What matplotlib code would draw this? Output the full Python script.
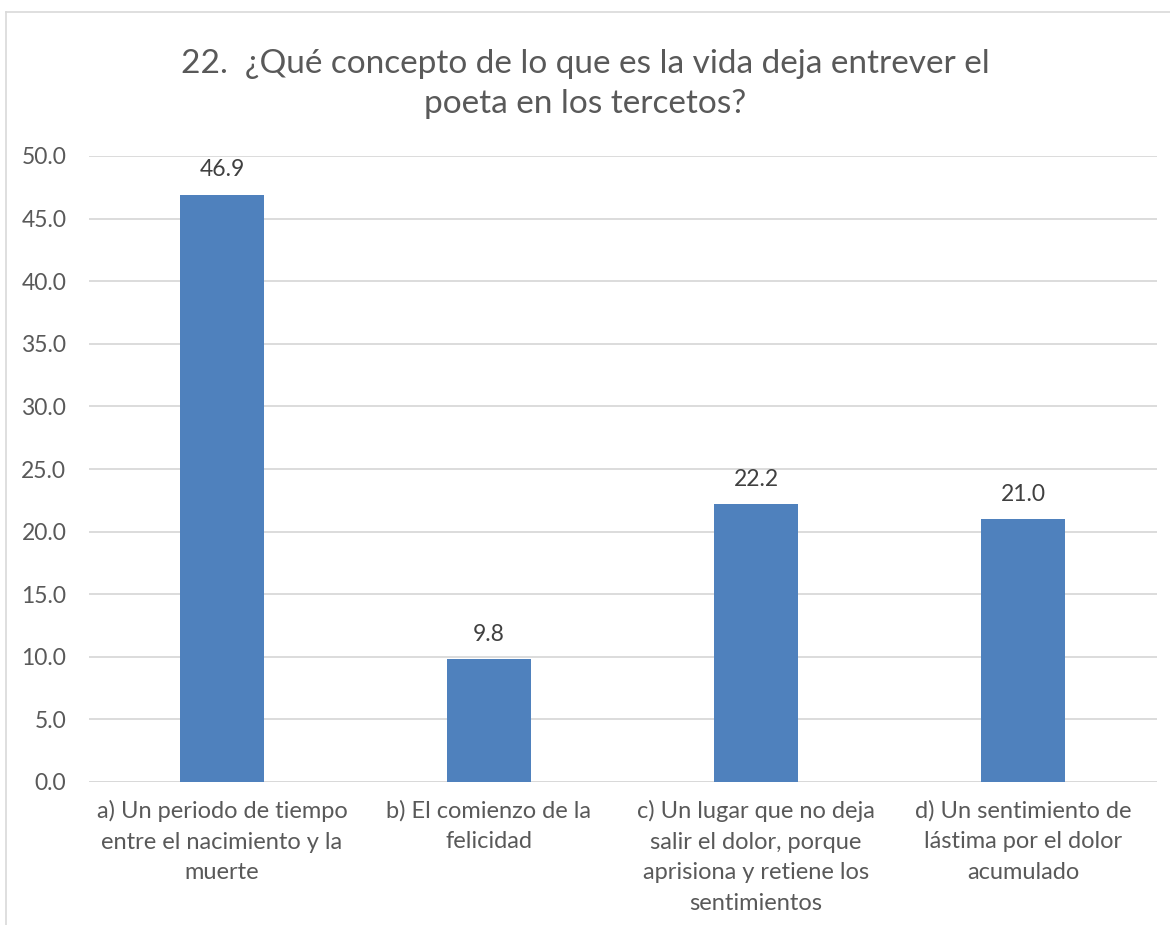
import matplotlib
matplotlib.use("Agg")
import matplotlib.pyplot as plt
from matplotlib.lines import Line2D

categories = [
    "a) Un periodo de tiempo\nentre el nacimiento y la\nmuerte",
    "b) El comienzo de la\nfelicidad",
    "c) Un lugar que no deja\nsalir el dolor, porque\naprisiona y retiene los\nsentimientos",
    "d) Un sentimiento de\nlástima por el dolor\nacumulado",
]
values = [46.9, 9.8, 22.2, 21.0]
yticks = [0, 5, 10, 15, 20, 25, 30, 35, 40, 45, 50]
title = "22.  ¿Qué concepto de lo que es la vida deja entrever el\npoeta en los tercetos?"

plt.rcParams['font.family'] = ['Lato', 'DejaVu Sans']
TEXT = "#595959"
BAR = "#4F81BD"
GRID = "#D9D9D9"

W, H = 1170, 925
fig = plt.figure(figsize=(W / 100, H / 100), dpi=100)
ax = fig.add_axes([88.5 / W, 1 - 782 / H, (1156.5 - 88.5) / W, (782 - 156) / H])

x = list(range(len(categories)))
bars = ax.bar(x, values, width=0.315, color=BAR, zorder=3)
for xi, v in zip(x, values):
    ax.annotate(f"{v:.1f}", (xi, v), xytext=(0, 18), textcoords="offset points",
                ha="center", va="center", fontsize=16.5, color="#404040")

ax.set_xlim(-0.5, len(categories) - 0.5)
ax.set_ylim(0, 50)
ax.set_yticks(yticks)
ax.set_yticklabels([f"{t:.1f}" for t in yticks])
ax.set_xticks(x)
ax.set_xticklabels(categories, linespacing=1.56)
ax.tick_params(axis="y", length=0, pad=16, labelsize=16.5, labelcolor=TEXT)
ax.tick_params(axis="x", length=0, pad=13, labelsize=17, labelcolor=TEXT)
ax.grid(axis="y", color=GRID, linewidth=1.3, zorder=0)
for s in ax.spines.values():
    s.set_visible(False)
ax.axhline(0, color=GRID, linewidth=1.3, zorder=2)

fig.text(0.5, 1 - 84 / H, title, ha="center", va="center", fontsize=24,
         color=TEXT, linespacing=1.45)

# chart border (left and top visible)
fig.add_artist(Line2D([6 / W, 6 / W], [0, 1 - 12 / H], transform=fig.transFigure,
                      color=GRID, linewidth=1.2))
fig.add_artist(Line2D([6 / W, 1], [1 - 12 / H, 1 - 12 / H], transform=fig.transFigure,
                      color=GRID, linewidth=1.2))

fig.savefig("out.png", dpi=100, facecolor="white")
